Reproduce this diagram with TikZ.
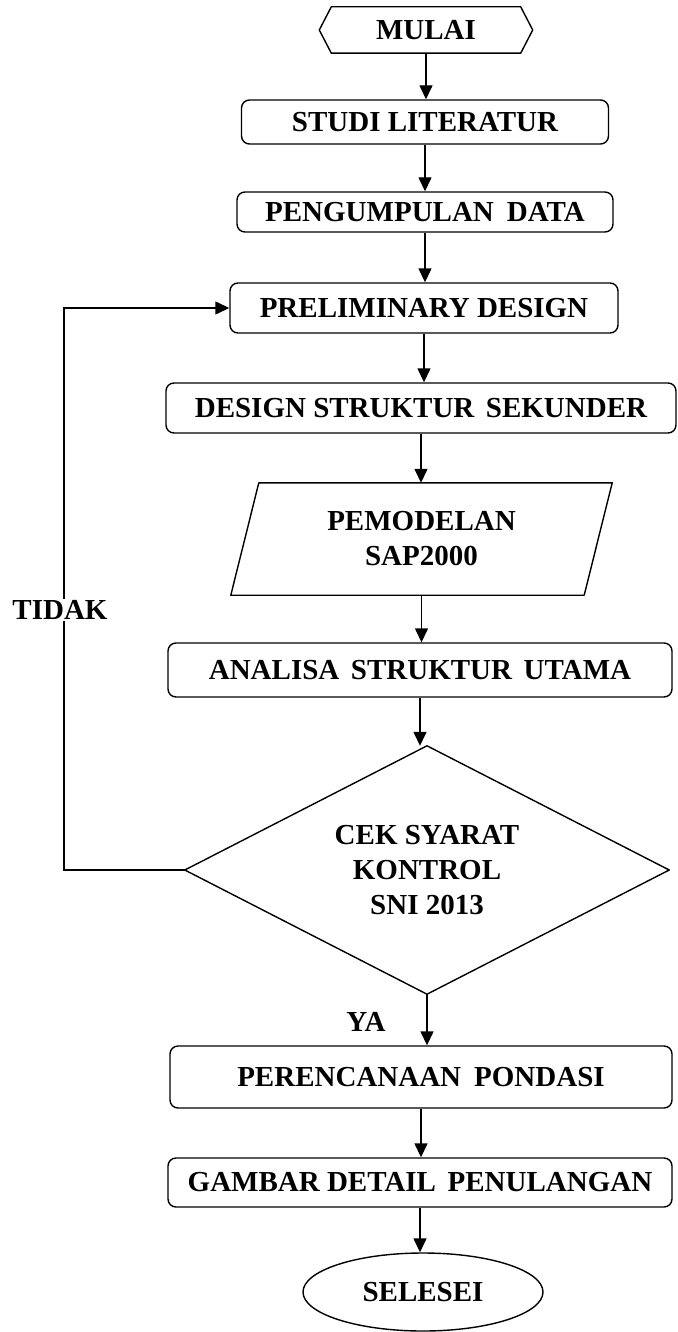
\documentclass[tikz,border=0pt]{standalone}
\usepackage{fontspec}
\setmainfont{Liberation Serif}
\usetikzlibrary{arrows.meta,shapes.geometric}
\begin{document}
\begin{tikzpicture}[x=1pt,y=-1pt,
  txt/.style={font=\fontsize{29}{35}\selectfont\bfseries, align=center, inner sep=0pt},
  box/.style={txt, draw, line width=1.4pt, rounded corners=8pt},
  ghost/.style={txt, draw=none},
  outl/.style={line width=1.4pt, line join=round},
  arr/.style={line width=1.4pt, -{Triangle[length=14pt,width=13pt]}},
  lbl/.style={txt, fill=white, inner sep=1pt}
]
\useasboundingbox (0,0) rectangle (677,1332);

% start (hexagon)
\node[ghost, minimum width=213pt, minimum height=46pt] (mulai) at (426,30) {MULAI};
\draw[outl] (mulai.west) -- ([xshift=12pt]mulai.north west) -- ([xshift=-12pt]mulai.north east)
  -- (mulai.east) -- ([xshift=-12pt]mulai.south east) -- ([xshift=12pt]mulai.south west) -- cycle;

\node[box, minimum width=367pt, minimum height=44pt] (studi) at (425,122) {STUDI LITERATUR};
\node[box, minimum width=376pt, minimum height=40pt] (peng) at (425,212) {PENGUMPULAN\hspace{0.2em} DATA};
\node[box, minimum width=388pt, minimum height=50pt] (prelim) at (424,308) {PRELIMINARY DESIGN};
\node[box, minimum width=510pt, minimum height=50pt] (sek) at (421,408) {DESIGN STRUKTUR\hspace{0.15em} SEKUNDER};

% parallelogram
\node[ghost, minimum width=381pt, minimum height=112pt] (pemo) at (421.5,539) {PEMODELAN\\SAP2000};
\draw[outl] ([xshift=28pt]pemo.north west) -- (pemo.north east) -- ([xshift=-28pt]pemo.south east)
  -- (pemo.south west) -- cycle;

\node[box, minimum width=504pt, minimum height=54pt] (anal) at (420,670) {ANALISA\hspace{0.15em} STRUKTUR\hspace{0.15em} UTAMA};

% decision diamond
\node[ghost, minimum width=484pt, minimum height=248pt] (cek) at (427,870) {CEK SYARAT\\KONTROL\\SNI 2013};
\draw[outl] (cek.north) -- (cek.east) -- (cek.south) -- (cek.west) -- cycle;

\node[box, minimum width=502pt, minimum height=62pt] (pond) at (421,1077) {PERENCANAAN\hspace{0.2em} PONDASI};
\node[box, minimum width=504pt, minimum height=49pt] (gamb) at (420,1182.5) {GAMBAR DETAIL\hspace{0.15em} PENULANGAN};

\node[txt, ellipse, draw, line width=1.4pt, minimum width=240pt, minimum height=78pt] (sel) at (423,1292) {SELESEI};

% connectors
\draw[arr] (mulai.south) -- (mulai.south |- studi.north);
\draw[arr] (studi.south) -- (studi.south |- peng.north);
\draw[arr] (peng.south) -- (peng.south |- prelim.north);
\draw[arr] (prelim.south) -- (prelim.south |- sek.north);
\draw[arr] (sek.south) -- (sek.south |- pemo.north);
\draw[arr] (pemo.south) -- (pemo.south |- anal.north);
\draw[arr] (anal.south) -- (anal.south |- cek.north);
\draw[arr] (cek.south) -- (cek.south |- pond.north);
\draw[arr] (pond.south) -- (pond.south |- gamb.north);
\draw[arr] (gamb.south) -- (gamb.south |- sel.north);

% loop back (TIDAK)
\coordinate (loop) at (64,870);
\draw[arr] (cek.west) -- (loop) |- (prelim.west);
\node[lbl] (tidak) at (60,610) {TIDAK};

% YA label
\node[txt] (ya) at (366,1022) {YA};
\end{tikzpicture}
\end{document}
